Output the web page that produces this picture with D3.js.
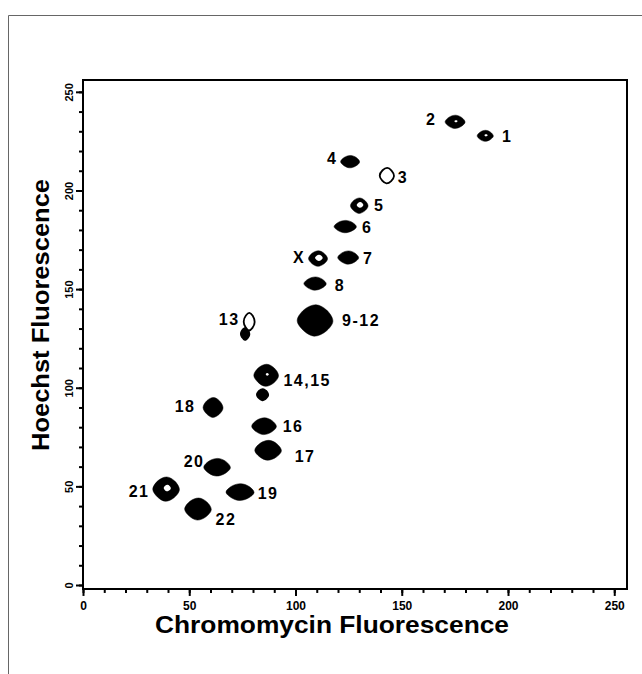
<!DOCTYPE html>
<html>
<head>
<meta charset="utf-8">
<script src="https://cdn.jsdelivr.net/npm/d3@7"></script>
<style>
  body { margin: 0; background: #fff; }
  text { font-family: "Liberation Sans", Arial, sans-serif; font-weight: bold; fill: #000; }
</style>
</head>
<body>
<div id="chart"></div>
<script>
// chromosome populations
const chromNames = ["1", "2", "3", "4", "5", "6", "7", "X", "8", "9-12", "13", "14,15", "16", "17", "18", "19", "20", "21", "22"]
const chromomycin = [189.3, 175.1, 143.0, 125.7, 130.0, 123.4, 124.8, 110.6, 109.2, 109.2, 78.2, 86.2, 85.2, 87.1, 61.2, 73.9, 63.1, 39.1, 54.1]
const hoechst = [227.7, 234.8, 207.5, 214.6, 192.3, 181.7, 166.0, 165.5, 152.8, 134.1, 133.5, 106.3, 80.5, 68.3, 90.0, 47.1, 59.7, 48.6, 38.5]
// spread of each peak (half width in channel units)
const spreadX = [3.4, 4.2, 3.0, 4.0, 3.7, 4.7, 4.4, 4.0, 4.7, 7.5, 2.3, 5.2, 5.2, 5.6, 4.2, 5.9, 5.6, 5.6, 5.6]
const spreadY = [2.5, 3.0, 3.5, 2.8, 3.5, 2.8, 3.0, 3.5, 3.0, 7.1, 4.0, 5.0, 3.8, 4.5, 4.5, 3.8, 4.0, 5.5, 5.0]
// 0 = solid, 1 = solid with a clear core, 2 = open contour
const contour = [1, 1, 2, 0, 1, 0, 0, 1, 0, 0, 2, 1, 0, 0, 0, 0, 0, 1, 0]

// small unlabeled satellite peaks
const extraX = [76.3, 84.5]
const extraY = [127.3, 96.5]
const extraSX = [2.2, 2.8]
const extraSY = [3.2, 3.0]

const xTicks = d3.range(0, 251, 10)
const yTicks = d3.range(0, 251, 10)

// label placement in px relative to each peak, and size of the clear core
const labelOffset = [[22, 1], [-24, -2], [16, 2], [-18, -3], [20, 0], [22, 1], [20, 1], [-19, -1], [25, 2],
  [46, 0], [-20, -2], [41, 5], [29, 0], [37, 6], [-28, -1], [28, 1], [-23, -6], [-27, 2], [28, 10]]
const coreSize = [0.22, 0.18, 0, 0, 0.42, 0, 0, 0.45, 0, 0, 0, 0.14, 0, 0, 0, 0, 0, 0.3, 0]

const svgWidth = 642
const svgHeight = 674

let svg = d3.select("#chart")
  .append("svg")
  .attr("width", svgWidth)
  .attr("height", svgHeight)

// scan border
svg.append("path")
  .attr("d", "M8.5,674V15.5H642")
  .attr("fill", "none")
  .attr("stroke", "#666")
  .attr("stroke-width", 1)

let x = d3.scaleLinear().domain([0, 256]).range([83, 627])
let y = d3.scaleLinear().domain([0, 256]).range([585, 80])

// plot frame
svg.append("path")
  .attr("d", `M${x(0)},${y(256)}H${x(256)}V${y(-2)}H${x(0)}Z`)
  .attr("fill", "none")
  .attr("stroke", "#000")
  .attr("stroke-width", 2)

// x axis: minor ticks then majors with labels
svg.append("g")
  .attr("transform", `translate(0, ${y(-2)})`)
  .call(d3.axisBottom(x).tickValues(xTicks).tickSize(4).tickFormat(""))
  .call(g => g.select(".domain").remove())
  .selectAll("line").attr("stroke-width", 2)

let xAxis = svg.append("g")
  .attr("transform", `translate(0, ${y(-2)})`)
  .call(d3.axisBottom(x).tickValues(xTicks.filter(d => d % 50 === 0)).tickSize(7).tickPadding(2))
xAxis.select(".domain").remove()
xAxis.selectAll("line").attr("stroke-width", 2)
xAxis.selectAll("text")
  .attr("font-size", 12)
  .attr("y", 21)
  .attr("dy", 0)

// y axis
svg.append("g")
  .attr("transform", `translate(${x(0)}, 0)`)
  .call(d3.axisLeft(y).tickValues(yTicks).tickSize(4).tickFormat(""))
  .call(g => g.select(".domain").remove())
  .selectAll("line").attr("stroke-width", 2)

let yAxis = svg.append("g")
  .attr("transform", `translate(${x(0)}, 0)`)
  .call(d3.axisLeft(y).tickValues(yTicks.filter(d => d % 50 === 0)).tickSize(7))
yAxis.select(".domain").remove()
yAxis.selectAll("line").attr("stroke-width", 2)
yAxis.selectAll("text")
  .attr("font-size", 11)
  .attr("transform", "rotate(-90)")
  .attr("text-anchor", "middle")
  .attr("x", 0)
  .attr("y", -10)
  .attr("dy", 0)

// axis titles
svg.append("text")
  .attr("x", 332)
  .attr("y", 633)
  .attr("text-anchor", "middle")
  .attr("font-size", 23)
  .attr("textLength", 354)
  .attr("lengthAdjust", "spacingAndGlyphs")
  .text("Chromomycin Fluorescence")

svg.append("text")
  .attr("transform", "translate(49, 315) rotate(-90)")
  .attr("text-anchor", "middle")
  .attr("font-size", 23)
  .attr("textLength", 272)
  .attr("lengthAdjust", "spacingAndGlyphs")
  .text("Hoechst Fluorescence")

// lens shaped contour around a peak
const blobLine = d3.line().curve(d3.curveCatmullRomClosed.alpha(0.5))
function blobPath(cx, cy, sx, sy, k) {
  let rx = (x(sx) - x(0)) * k
  let ry = (y(0) - y(sy)) * k
  let px = x(cx), py = y(cy)
  let pts = [[-1, 0], [-0.6, -0.7], [0.05, -1], [0.65, -0.66], [1, 0.05], [0.6, 0.7], [-0.05, 1], [-0.65, 0.64]]
  return blobLine(pts.map(p => [px + p[0] * rx, py + p[1] * ry]))
}

let peaks = chromNames.map((name, i) => ({
  name: name, cx: chromomycin[i], cy: hoechst[i], sx: spreadX[i], sy: spreadY[i],
  type: contour[i], off: labelOffset[i], core: coreSize[i]
}))
let extras = extraX.map((v, i) => ({ cx: v, cy: extraY[i], sx: extraSX[i], sy: extraSY[i] }))

let blobs = svg.append("g")

blobs.selectAll(".extra")
  .data(extras)
  .enter()
  .append("path")
  .attr("class", "extra")
  .attr("d", d => blobPath(d.cx, d.cy, d.sx, d.sy, 1.1))
  .attr("fill", "#000")

blobs.selectAll(".peak")
  .data(peaks)
  .enter()
  .append("path")
  .attr("class", "peak")
  .attr("d", d => blobPath(d.cx, d.cy, d.sx, d.sy, 1.12))
  .attr("fill", d => d.type === 2 ? "#fff" : "#000")
  .attr("stroke", "#000")
  .attr("stroke-width", d => d.type === 2 ? 1.8 : 0.5)

// clear cores inside the partly open peaks
blobs.selectAll(".core")
  .data(peaks.filter(d => d.type === 1))
  .enter()
  .append("path")
  .attr("class", "core")
  .attr("d", d => blobPath(d.cx + d.sx * 0.1, d.cy + d.sy * 0.1, d.sx, d.sy, d.core))
  .attr("fill", "#fff")

// chromosome labels
svg.append("g")
  .selectAll("text")
  .data(peaks)
  .enter()
  .append("text")
  .attr("x", d => x(d.cx) + d.off[0])
  .attr("y", d => y(d.cy) + d.off[1])
  .attr("text-anchor", "middle")
  .attr("dominant-baseline", "central")
  .attr("font-size", 16)
  .attr("letter-spacing", 1.5)
  .text(d => d.name)
</script>
</body>
</html>
